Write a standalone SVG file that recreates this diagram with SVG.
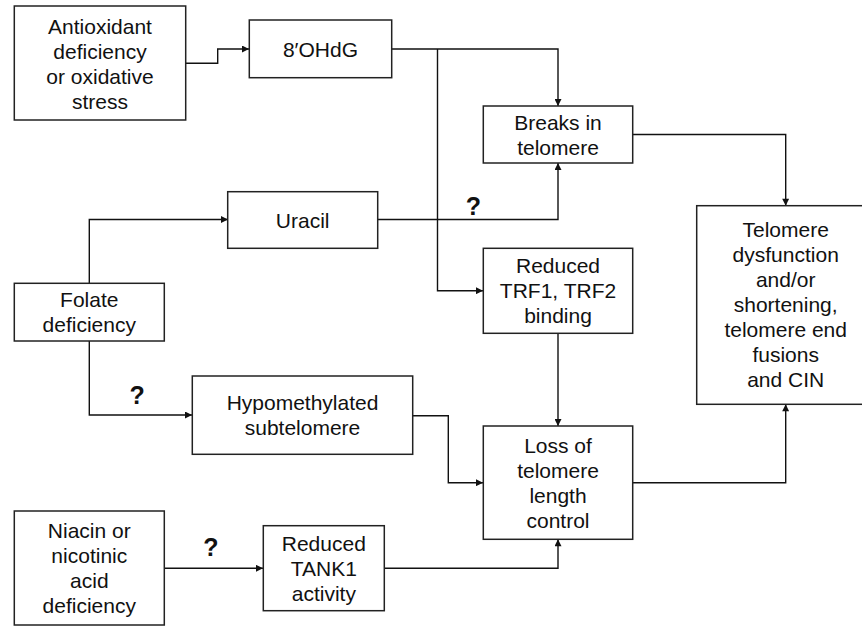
<svg xmlns="http://www.w3.org/2000/svg" width="862" height="626" viewBox="0 0 862 626">
<defs>
<marker id="arr" viewBox="0 0 10 10" refX="10" refY="5" markerWidth="8" markerHeight="7" markerUnits="userSpaceOnUse" orient="auto">
<path d="M0,0 L10,5 L0,10 z" fill="#111"/>
</marker>
<style>
rect.box{fill:#fff;stroke:#222;stroke-width:1.5}
text{font-family:"Liberation Sans",Arial,Helvetica,sans-serif;font-size:21px;fill:#111;text-anchor:middle}
text.q{font-weight:bold;font-size:25px}
#connectors path{fill:none;stroke:#111;stroke-width:1.4;marker-end:url(#arr)}
</style>
</defs>
<rect width="862" height="626" fill="#fff"/>
<g id="connectors">
<path d="M186,63.3 H217.7 V49 H249"/>
<path d="M392,49 H558 V106"/>
<path d="M437.5,49 V290.7 H483"/>
<path d="M378,219.5 H558 V163"/>
<path d="M633,134.5 H785.7 V205.7"/>
<path d="M89.3,283 V219.5 H228"/>
<path d="M89.3,341 V415 H192"/>
<path d="M412.7,415.7 H448.3 V482.7 H483"/>
<path d="M558,333.3 V426"/>
<path d="M633,482.7 H785.7 V404.3"/>
<path d="M164.3,568.3 H263"/>
<path d="M384.3,568.3 H558 V539.3"/>
</g>
<g id="antioxidant">
<rect class="box" x="14.3" y="6" width="171.4" height="114"/>
<text x="100" y="33.5">Antioxidant</text>
<text x="100" y="58.5">deficiency</text>
<text x="100" y="83.5">or oxidative</text>
<text x="100" y="108.5">stress</text>
</g>
<g id="ohdg">
<rect class="box" x="249.3" y="20" width="142.4" height="57.7"/>
<text x="320.5" y="56.5">8′OHdG</text>
</g>
<g id="breaks">
<rect class="box" x="483.3" y="106" width="149.4" height="57"/>
<text x="558" y="130">Breaks in</text>
<text x="558" y="155">telomere</text>
</g>
<g id="uracil">
<rect class="box" x="227.7" y="191.7" width="150" height="56.6"/>
<text x="302.7" y="227.5">Uracil</text>
</g>
<g id="trf">
<rect class="box" x="483.3" y="248.3" width="149.4" height="85"/>
<text x="558" y="273">Reduced</text>
<text x="558" y="298">TRF1, TRF2</text>
<text x="558" y="323">binding</text>
</g>
<g id="telomere">
<rect class="box" x="696.7" y="205.7" width="178" height="198.6"/>
<text x="785.7" y="237">Telomere</text>
<text x="785.7" y="262">dysfunction</text>
<text x="785.7" y="287">and/or</text>
<text x="785.7" y="312">shortening,</text>
<text x="785.7" y="337">telomere end</text>
<text x="785.7" y="362">fusions</text>
<text x="785.7" y="387">and CIN</text>
</g>
<g id="folate">
<rect class="box" x="14.3" y="283.3" width="150" height="57.7"/>
<text x="89.3" y="306.7">Folate</text>
<text x="89.3" y="331.7">deficiency</text>
</g>
<g id="hypo">
<rect class="box" x="192.3" y="376" width="220.4" height="78.3"/>
<text x="302.5" y="410">Hypomethylated</text>
<text x="302.5" y="435">subtelomere</text>
</g>
<g id="loss">
<rect class="box" x="483.3" y="426" width="149.4" height="113.3"/>
<text x="558" y="452.5">Loss of</text>
<text x="558" y="477.5">telomere</text>
<text x="558" y="502.5">length</text>
<text x="558" y="527.5">control</text>
</g>
<g id="niacin">
<rect class="box" x="14.3" y="511" width="150" height="114"/>
<text x="89.3" y="538.3">Niacin or</text>
<text x="89.3" y="563.3">nicotinic</text>
<text x="89.3" y="588.3">acid</text>
<text x="89.3" y="613.3">deficiency</text>
</g>
<g id="tank">
<rect class="box" x="263.3" y="525.7" width="121" height="85"/>
<text x="323.8" y="550.5">Reduced</text>
<text x="323.8" y="575.5">TANK1</text>
<text x="323.8" y="600.5">activity</text>
</g>
<g id="labels">
<text class="q" x="473.3" y="215">?</text>
<text class="q" x="137.2" y="404">?</text>
<text class="q" x="210.8" y="556">?</text>
</g>
</svg>
